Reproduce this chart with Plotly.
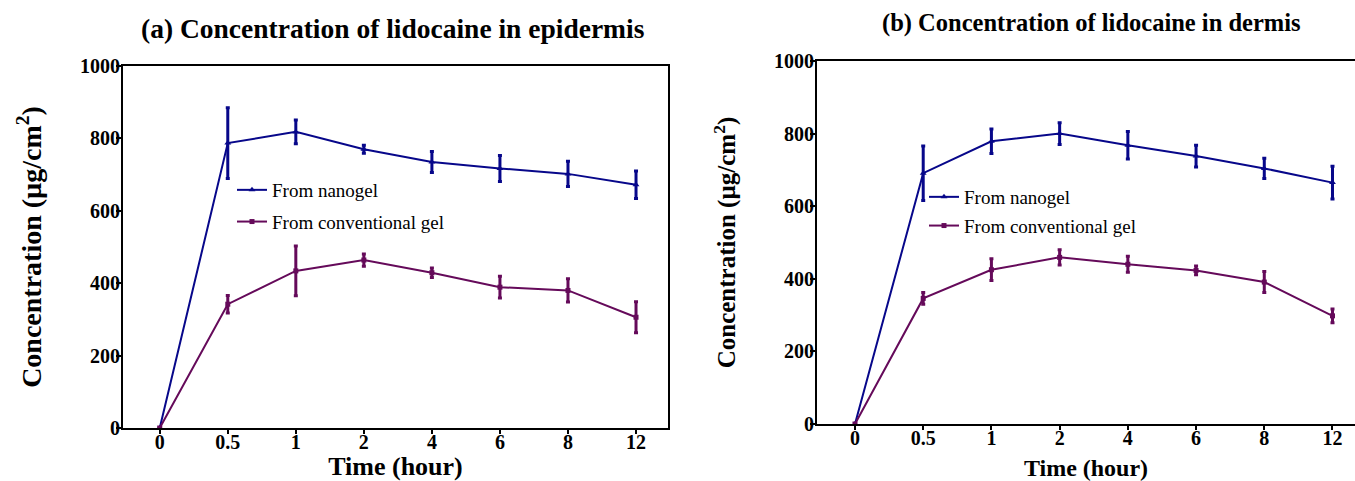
import plotly.graph_objects as go

# ---------------- data ----------------
time_labels = ["0", "0.5", "1", "2", "4", "6", "8", "12"]

epi_nano = [0, 787, 818, 770, 735, 717, 702, 672]
epi_nano_sd = [0, 98, 33, 11, 29, 36, 35, 38]
epi_conv = [0, 342, 434, 464, 429, 389, 380, 306]
epi_conv_sd = [0, 24, 69, 17, 13, 30, 32, 43]

der_nano = [0, 691, 779, 800, 768, 738, 704, 665]
der_nano_sd = [0, 75, 34, 30, 38, 30, 28, 45]
der_conv = [0, 346, 425, 459, 440, 423, 391, 298]
der_conv_sd = [0, 16, 30, 21, 22, 12, 29, 19]

y_ticks = [0, 200, 400, 600, 800, 1000]

NAVY = "#07078a"
PURPLE = "#650a5a"
FONT = "Liberation Serif"

W, H = 1355, 481


def px_x(p):
    return p / W


def px_y(p):
    return 1 - p / H


fig = go.Figure()


def add_series(y, sd, name, color, symbol, msize, xa, ya, legend):
    fig.add_trace(go.Scatter(
        x=time_labels, y=y, name=name, mode="lines+markers",
        xaxis=xa, yaxis=ya, legend=legend, showlegend=True,
        legendgroup=name + xa,
        line=dict(color=color, width=2),
        marker=dict(color=color, symbol=symbol, size=msize),
        error_y=dict(type="data", array=sd, visible=True, color=color,
                     thickness=3, width=2),
    ))


add_series(epi_nano, epi_nano_sd, "From nanogel", NAVY, "triangle-up", 6, "x", "y", "legend")
add_series(epi_conv, epi_conv_sd, "From conventional gel", PURPLE, "square", 5, "x", "y", "legend")
add_series(der_nano, der_nano_sd, "From nanogel", NAVY, "triangle-up", 6, "x2", "y2", "legend2")
add_series(der_conv, der_conv_sd, "From conventional gel", PURPLE, "square", 5, "x2", "y2", "legend2")

tickfont = dict(family=FONT, size=20, color="black", weight="bold")

common_x = dict(type="category", categoryorder="array", categoryarray=time_labels,
                showline=True, linecolor="black", linewidth=2, mirror=True,
                ticks="outside", ticklen=4, tickwidth=1.5, tickcolor="black",
                ticklabelstandoff=-9,
                showgrid=False, zeroline=False, tickfont=tickfont, automargin=False)
common_y = dict(range=[0, 1000], tickvals=y_ticks,
                showline=True, linecolor="black", linewidth=2, mirror=True,
                ticks="outside", ticklen=5, tickwidth=1.5, tickcolor="black",
                ticklabelstandoff=-8,
                showgrid=False, zeroline=False, tickfont=tickfont, automargin=False)

fig.update_layout(
    width=W, height=H,
    margin=dict(l=0, r=0, t=0, b=0, autoexpand=False),
    paper_bgcolor="white", plot_bgcolor="white",
    font=dict(family=FONT, color="black"),
    xaxis=dict(common_x, domain=[px_x(123), px_x(668)], range=[-0.54, 7.47], anchor="y",
               title=dict(text="Time (hour)", standoff=23,
                          font=dict(family=FONT, size=26, weight="bold"))),
    yaxis=dict(common_y, domain=[px_y(428), px_y(66)], anchor="x",
               title=dict(text="Concentration (µg/cm<sup>2</sup>)", standoff=30,
                          font=dict(family=FONT, size=28, weight="bold"))),
    xaxis2=dict(common_x, domain=[px_x(817), 1.0], range=[-0.557, 7.33], anchor="y2",
                title=dict(text="Time (hour)", standoff=22,
                           font=dict(family=FONT, size=24, weight="bold"))),
    yaxis2=dict(common_y, domain=[px_y(424), px_y(61)], anchor="x2",
                title=dict(text="Concentration (µg/cm<sup>2</sup>)", standoff=31,
                           font=dict(family=FONT, size=25, weight="bold"))),
    legend=dict(x=px_x(232), y=px_y(171), xanchor="left", yanchor="top",
                bgcolor="rgba(0,0,0,0)", font=dict(family=FONT, size=19),
                tracegroupgap=4, traceorder="grouped"),
    legend2=dict(x=px_x(924), y=px_y(178), xanchor="left", yanchor="top",
                 bgcolor="rgba(0,0,0,0)", font=dict(family=FONT, size=19),
                 tracegroupgap=1, traceorder="grouped"),
    annotations=[
        dict(text="(a) Concentration of lidocaine in epidermis", x=px_x(393), y=px_y(28),
             xref="paper", yref="paper", showarrow=False, xanchor="center", yanchor="middle",
             font=dict(family=FONT, size=27.5, weight="bold", color="black")),
        dict(text="(b) Concentration of lidocaine in dermis", x=px_x(1091), y=px_y(23),
             xref="paper", yref="paper", showarrow=False, xanchor="center", yanchor="middle",
             font=dict(family=FONT, size=24.5, weight="bold", color="black")),
    ],
)

fig.write_html("out.html")
